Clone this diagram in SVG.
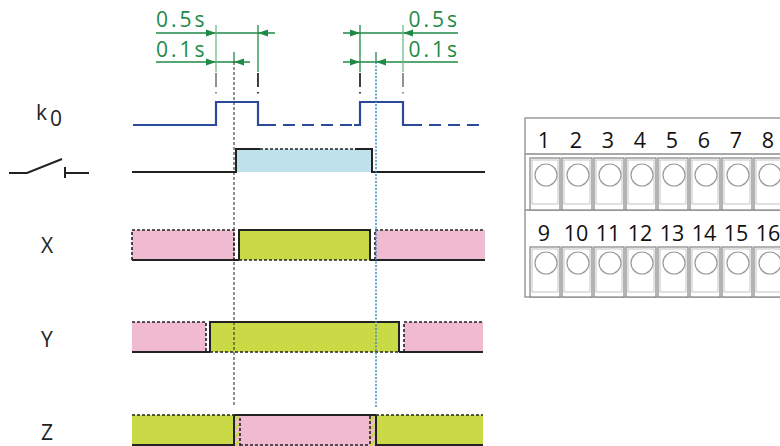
<svg xmlns="http://www.w3.org/2000/svg" width="780" height="446" viewBox="0 0 780 446">
<style>
.g{stroke:#1e8a45;stroke-width:1.3;fill:none}
.gl{stroke:#6cbb86;stroke-width:1.3;fill:none}
.gt{font-family:"Open Sans","Noto Sans",sans-serif;font-size:21px;fill:#1e8a45;letter-spacing:3px}
.lbl{font-family:"Open Sans","Noto Sans",sans-serif;font-size:21px;fill:#222}
.num{font-family:"Open Sans","Noto Sans",sans-serif;font-size:21.5px;fill:#111;text-anchor:middle}
.k{stroke:#2a4a9a;stroke-width:2.2;fill:none}
.kd{stroke:#2a4a9a;stroke-width:2.2;fill:none;stroke-dasharray:12 7}
.s{stroke:#222;stroke-width:2;fill:none}
.d{stroke:#222;stroke-width:1.6;fill:none;stroke-dasharray:3 2}
.pink{fill:#f0bbd0}
.yg{fill:#cad946}
.lb{fill:#bee1ec}
.cell{fill:#fff;stroke:#8c8c8c;stroke-width:1.3}
.cin{fill:none;stroke:#c4c4c4;stroke-width:1}
.hole{fill:#fff;stroke:#9a9a9a;stroke-width:1.2}
.ext{stroke-width:1.6;stroke-dasharray:14 5 1.5 10;fill:none}
</style>
<defs>
<polygon id="ar" points="-10,-3.5 0,0 -10,3.5" fill="#1e8a45"/>
<pattern id="hatch" width="6" height="6" patternUnits="userSpaceOnUse" patternTransform="rotate(-45)">
<rect width="6" height="6" fill="#f0bbd0"/>
<rect width="6" height="2.5" fill="#cad946"/>
</pattern>
</defs>

<g id="dimensions">
<text class="gt" x="156" y="27">0.5s</text>
<text class="gt" x="156" y="57">0.1s</text>
<text class="gt" x="460" y="27" text-anchor="end">0.5s</text>
<text class="gt" x="460" y="57" text-anchor="end">0.1s</text>
<line class="g" x1="156" y1="33" x2="275" y2="33"/>
<line class="g" x1="156" y1="62" x2="250" y2="62"/>
<line class="gl" x1="216" y1="25" x2="216" y2="72"/>
<line class="g" x1="258" y1="25" x2="258" y2="72"/>
<line class="g" x1="234" y1="52" x2="234" y2="62"/>
<use href="#ar" transform="translate(216,33)"/>
<use href="#ar" transform="translate(258,33) scale(-1,1)"/>
<use href="#ar" transform="translate(216,62)"/>
<use href="#ar" transform="translate(234,62) scale(-1,1)"/>
<line class="g" x1="343" y1="33" x2="458" y2="33"/>
<line class="g" x1="343" y1="62" x2="458" y2="62"/>
<line class="g" x1="360" y1="25" x2="360" y2="72"/>
<line class="gl" x1="403" y1="25" x2="403" y2="72"/>
<line class="g" x1="376" y1="52" x2="376" y2="62"/>
<use href="#ar" transform="translate(360,33)"/>
<use href="#ar" transform="translate(403,33) scale(-1,1)"/>
<use href="#ar" transform="translate(360,62)"/>
<use href="#ar" transform="translate(376,62) scale(-1,1)"/>
<line class="ext" x1="216" y1="73" x2="216" y2="96" stroke="#777"/>
<line class="ext" x1="258" y1="73" x2="258" y2="96" stroke="#111"/>
<line class="ext" x1="360" y1="73" x2="360" y2="96" stroke="#111"/>
<line class="ext" x1="403" y1="73" x2="403" y2="96" stroke="#777"/>
</g>

<g id="labels">
<text class="lbl" x="36" y="120" font-size="20">k</text>
<text class="lbl" x="50" y="126" font-size="20">0</text>
<text class="lbl" x="41" y="253">X</text>
<text class="lbl" x="41" y="347">Y</text>
<text class="lbl" x="41" y="440">Z</text>
</g>

<g id="switch-symbol" class="s" stroke-width="2.5">
<polyline points="9,173 27,173 62,159"/>
<line x1="65" y1="167" x2="65" y2="178"/>
<line x1="65" y1="173" x2="89" y2="173"/>
</g>

<g id="k0-signal">
<polyline class="k" points="133,125 216,125 216,102 258,102 258,125 264,125"/>
<line class="kd" x1="264" y1="125" x2="356" y2="125"/>
<polyline class="k" points="354,125 360,125 360,102 403,102 403,125 410,125"/>
<line class="kd" x1="410" y1="125" x2="485" y2="125"/>
</g>

<g id="switch-signal">
<rect class="lb" x="237" y="149" width="135" height="23"/>
<polyline class="s" points="132,172 236,172 236,149 260,149"/>
<line class="d" x1="260" y1="149" x2="355" y2="149"/>
<polyline class="s" points="355,149 372,149 372,172 485,172"/>
</g>

<g id="x-signal">
<rect class="pink" x="132" y="230" width="102" height="30"/>
<rect class="yg" x="239" y="230" width="131" height="30"/>
<rect class="pink" x="375" y="230" width="110" height="30"/>
<path class="d" d="M132,260 V230 H234 V260"/>
<line class="s" x1="132" y1="260" x2="239" y2="260"/>
<path class="s" d="M239,260 V230 H370 V260"/>
<line class="d" x1="239" y1="260" x2="370" y2="260"/>
<path class="d" d="M375,260 V230 H485"/>
<line class="s" x1="370" y1="260" x2="485" y2="260"/>
</g>

<g id="y-signal">
<rect class="pink" x="132" y="322" width="74" height="30"/>
<rect class="yg" x="210" y="322" width="189" height="30"/>
<rect class="pink" x="404" y="322" width="79" height="30"/>
<path class="d" d="M132,322 H206 V352"/>
<line class="s" x1="132" y1="352" x2="210" y2="352"/>
<path class="s" d="M210,352 V322 H399 V352"/>
<line class="d" x1="210" y1="352" x2="399" y2="352"/>
<path class="d" d="M404,352 V322 H483"/>
<line class="s" x1="399" y1="352" x2="483" y2="352"/>
</g>

<g id="z-signal">
<rect class="yg" x="132" y="415" width="102" height="31"/>
<rect fill="url(#hatch)" x="234" y="415" width="6" height="31"/>
<rect class="pink" x="240" y="415" width="130" height="31"/>
<rect fill="url(#hatch)" x="370" y="415" width="6" height="31"/>
<rect class="yg" x="376" y="415" width="107" height="31"/>
<path class="d" d="M132,415 H234"/>
<path class="s" d="M234,415 V446"/>
<path class="s" d="M234,415 H376"/>
<path class="d" d="M240,446 V416 M370,416 V446 M240,445 H370"/>
<path class="s" d="M376,446 V415"/>
<path class="d" d="M376,415 H483"/>
<line class="s" x1="132" y1="445" x2="234" y2="445"/>
<line class="s" x1="376" y1="445" x2="483" y2="445"/>
</g>

<g id="reference-lines">
<line x1="234" y1="62" x2="234" y2="407" stroke="#222" stroke-width="1" stroke-dasharray="3 2"/>
<line x1="376" y1="62" x2="376" y2="408" stroke="#3a8fc4" stroke-width="1.5" stroke-dasharray="2 1.5"/>
</g>

<g id="terminal-block">
<rect x="525" y="118" width="270" height="179" fill="#fff" stroke="#8c8c8c" stroke-width="1.3"/>
<line x1="525" y1="154" x2="780" y2="154" stroke="#8c8c8c" stroke-width="1.3"/>
<line x1="525" y1="210" x2="780" y2="210" stroke="#8c8c8c" stroke-width="1.3"/>
<g id="row1">
<rect class="cell" x="530" y="158" width="30" height="52"/><rect class="cin" x="532" y="160" width="26" height="44"/><circle class="hole" cx="546" cy="175" r="11"/>
<rect class="cell" x="562" y="158" width="30" height="52"/><rect class="cin" x="564" y="160" width="26" height="44"/><circle class="hole" cx="578" cy="175" r="11"/>
<rect class="cell" x="594" y="158" width="30" height="52"/><rect class="cin" x="596" y="160" width="26" height="44"/><circle class="hole" cx="610" cy="175" r="11"/>
<rect class="cell" x="626" y="158" width="30" height="52"/><rect class="cin" x="628" y="160" width="26" height="44"/><circle class="hole" cx="642" cy="175" r="11"/>
<rect class="cell" x="658" y="158" width="30" height="52"/><rect class="cin" x="660" y="160" width="26" height="44"/><circle class="hole" cx="674" cy="175" r="11"/>
<rect class="cell" x="690" y="158" width="30" height="52"/><rect class="cin" x="692" y="160" width="26" height="44"/><circle class="hole" cx="706" cy="175" r="11"/>
<rect class="cell" x="722" y="158" width="30" height="52"/><rect class="cin" x="724" y="160" width="26" height="44"/><circle class="hole" cx="738" cy="175" r="11"/>
<rect class="cell" x="754" y="158" width="30" height="52"/><rect class="cin" x="756" y="160" width="26" height="44"/><circle class="hole" cx="770" cy="175" r="11"/>
<text class="num" x="544" y="148">1</text><text class="num" x="576" y="148">2</text><text class="num" x="608" y="148">3</text><text class="num" x="640" y="148">4</text><text class="num" x="672" y="148">5</text><text class="num" x="704" y="148">6</text><text class="num" x="736" y="148">7</text><text class="num" x="768" y="148">8</text>
</g>
<g id="row2">
<rect class="cell" x="530" y="247" width="30" height="50"/><rect class="cin" x="532" y="249" width="26" height="43"/><circle class="hole" cx="546" cy="263" r="11"/>
<rect class="cell" x="562" y="247" width="30" height="50"/><rect class="cin" x="564" y="249" width="26" height="43"/><circle class="hole" cx="578" cy="263" r="11"/>
<rect class="cell" x="594" y="247" width="30" height="50"/><rect class="cin" x="596" y="249" width="26" height="43"/><circle class="hole" cx="610" cy="263" r="11"/>
<rect class="cell" x="626" y="247" width="30" height="50"/><rect class="cin" x="628" y="249" width="26" height="43"/><circle class="hole" cx="642" cy="263" r="11"/>
<rect class="cell" x="658" y="247" width="30" height="50"/><rect class="cin" x="660" y="249" width="26" height="43"/><circle class="hole" cx="674" cy="263" r="11"/>
<rect class="cell" x="690" y="247" width="30" height="50"/><rect class="cin" x="692" y="249" width="26" height="43"/><circle class="hole" cx="706" cy="263" r="11"/>
<rect class="cell" x="722" y="247" width="30" height="50"/><rect class="cin" x="724" y="249" width="26" height="43"/><circle class="hole" cx="738" cy="263" r="11"/>
<rect class="cell" x="754" y="247" width="30" height="50"/><rect class="cin" x="756" y="249" width="26" height="43"/><circle class="hole" cx="770" cy="263" r="11"/>
<text class="num" x="544" y="241">9</text><text class="num" x="576" y="241">10</text><text class="num" x="608" y="241">11</text><text class="num" x="640" y="241">12</text><text class="num" x="672" y="241">13</text><text class="num" x="704" y="241">14</text><text class="num" x="736" y="241">15</text><text class="num" x="768" y="241">16</text>
</g>
</g>
</svg>
